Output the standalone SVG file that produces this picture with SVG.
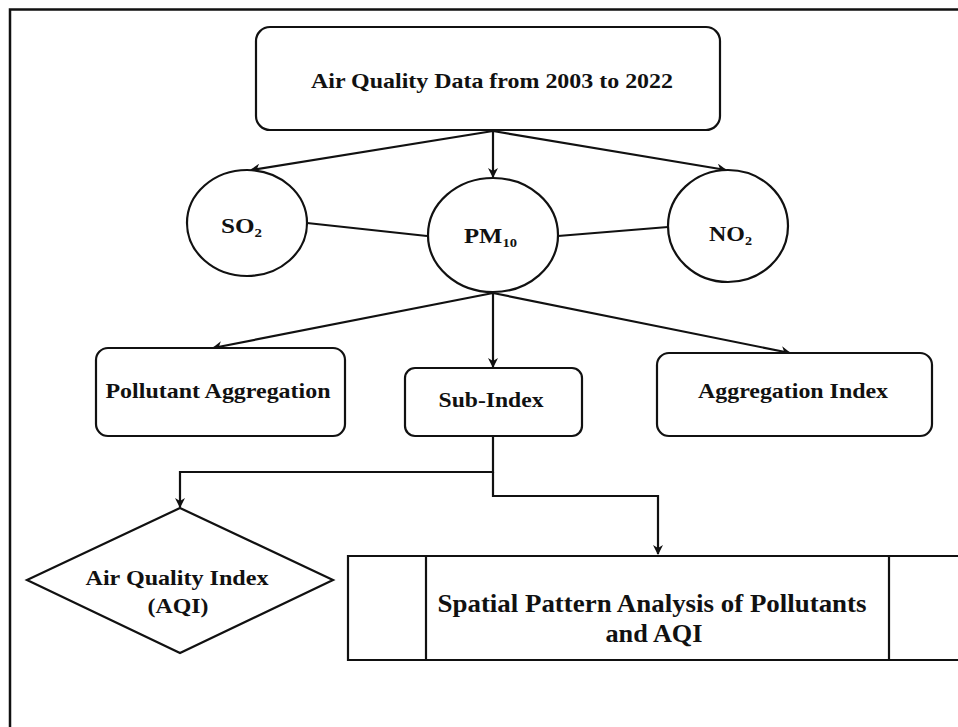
<svg xmlns="http://www.w3.org/2000/svg" width="958" height="727" viewBox="0 0 958 727">
<defs>
<style>
.s{fill:#fff;stroke:#111;stroke-width:2.2}
.c{fill:none;stroke:#111;stroke-width:2.2}
.t{font-family:"Liberation Serif","Times New Roman",serif;font-weight:bold;fill:#111;text-anchor:middle}
.l{font-family:"Liberation Serif","Times New Roman",serif;font-weight:bold;fill:#111}
</style>
<marker id="ah" markerWidth="10" markerHeight="10" refX="9" refY="5" orient="auto" markerUnits="userSpaceOnUse">
<path d="M0,0 L10,5 L0,10 L3,5 Z" fill="#111"/>
</marker>
</defs>
<rect width="958" height="727" fill="#fff"/>
<path d="M10,727 V9.5 H958" fill="none" stroke="#111" stroke-width="2.5"/>
<g id="connectors">
<line class="c" x1="493" y1="131" x2="251" y2="170" marker-end="url(#ah)"/>
<line class="c" x1="493" y1="131" x2="493" y2="177" marker-end="url(#ah)"/>
<line class="c" x1="493" y1="131" x2="726" y2="170" marker-end="url(#ah)"/>
<line class="c" x1="307" y1="223" x2="427" y2="236"/>
<line class="c" x1="558" y1="236" x2="668" y2="227"/>
<line class="c" x1="493" y1="293" x2="213" y2="348" marker-end="url(#ah)"/>
<line class="c" x1="493" y1="293" x2="493" y2="367" marker-end="url(#ah)"/>
<line class="c" x1="493" y1="293" x2="790" y2="353" marker-end="url(#ah)"/>
<path class="c" d="M493,436 V472 H180 V507" marker-end="url(#ah)"/>
<path class="c" d="M493,472 V496 H658 V554" marker-end="url(#ah)"/>
</g>
<g id="top">
<rect class="s" x="256" y="27" width="464" height="103" rx="14"/>
<text class="t" x="492" y="88" font-size="22" textLength="362" lengthAdjust="spacingAndGlyphs">Air Quality Data from 2003 to 2022</text>
</g>
<g id="so2">
<ellipse class="s" cx="247" cy="223" rx="60" ry="53"/>
<text class="l" x="221" y="233" font-size="22" textLength="41" lengthAdjust="spacingAndGlyphs">SO<tspan font-size="13" dy="4">2</tspan></text>
</g>
<g id="pm10">
<ellipse class="s" cx="493" cy="235" rx="65" ry="57"/>
<text class="l" x="464" y="243" font-size="22" textLength="53" lengthAdjust="spacingAndGlyphs">PM<tspan font-size="13" dy="4">10</tspan></text>
</g>
<g id="no2">
<ellipse class="s" cx="728" cy="226" rx="60" ry="56"/>
<text class="l" x="709" y="241" font-size="22" textLength="43" lengthAdjust="spacingAndGlyphs">NO<tspan font-size="13" dy="4">2</tspan></text>
</g>
<g id="pollutant-aggregation">
<rect class="s" x="96" y="348" width="249" height="88" rx="12"/>
<text class="t" x="218" y="398" font-size="22" textLength="225" lengthAdjust="spacingAndGlyphs">Pollutant Aggregation</text>
</g>
<g id="sub-index">
<rect class="s" x="405" y="368" width="177" height="68" rx="10"/>
<text class="t" x="491" y="407" font-size="22" textLength="105" lengthAdjust="spacingAndGlyphs">Sub-Index</text>
</g>
<g id="aggregation-index">
<rect class="s" x="657" y="353" width="275" height="83" rx="12"/>
<text class="t" x="793" y="398" font-size="22" textLength="190" lengthAdjust="spacingAndGlyphs">Aggregation Index</text>
</g>
<g id="aqi">
<polygon class="s" points="180,508 333,580 180,653 27,580"/>
<text class="t" x="177" y="585" font-size="22" textLength="183" lengthAdjust="spacingAndGlyphs">Air Quality Index</text>
<text class="t" x="178" y="613" font-size="22" textLength="61" lengthAdjust="spacingAndGlyphs">(AQI)</text>
</g>
<g id="spatial">
<path class="s" d="M960,556 H348 V660 H960"/>
<line class="c" x1="426" y1="556" x2="426" y2="660"/>
<line class="c" x1="889" y1="556" x2="889" y2="660"/>
<text class="t" x="652" y="612" font-size="25" textLength="429" lengthAdjust="spacingAndGlyphs">Spatial Pattern Analysis of Pollutants</text>
<text class="t" x="654" y="642" font-size="25" textLength="97" lengthAdjust="spacingAndGlyphs">and AQI</text>
</g>
</svg>
